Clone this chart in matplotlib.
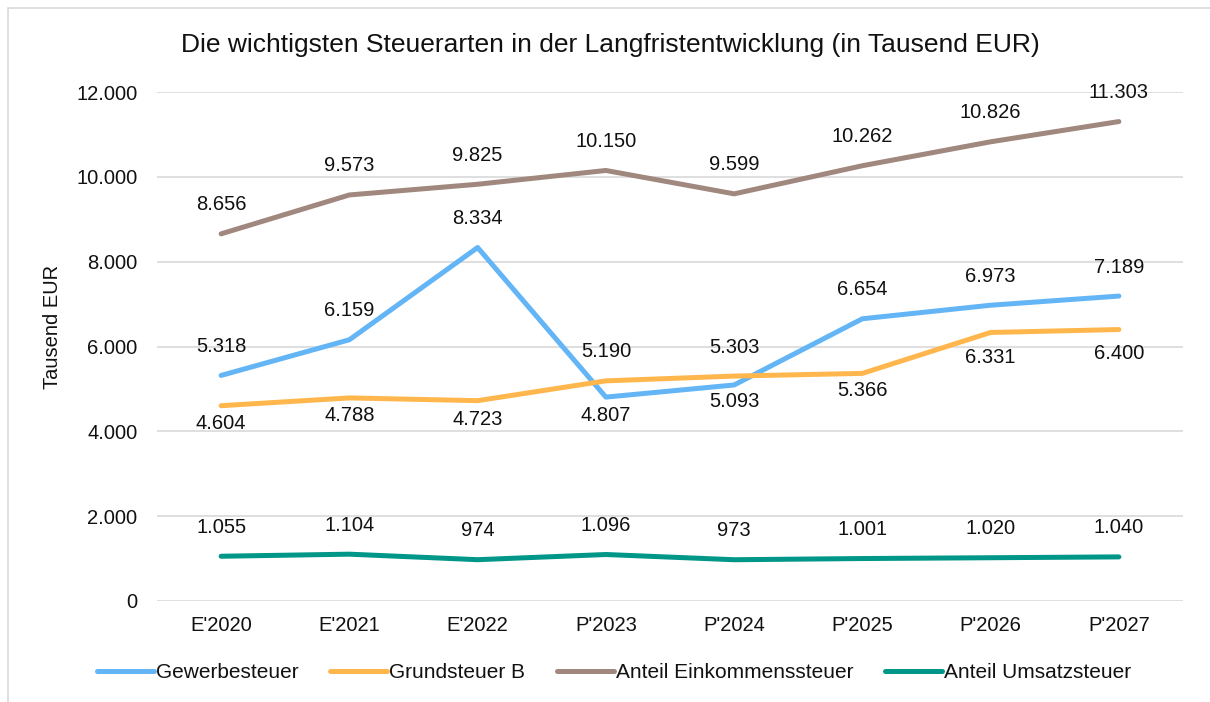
import matplotlib
matplotlib.use("Agg")
import matplotlib.pyplot as plt
from matplotlib.patches import Rectangle
from matplotlib.ticker import FuncFormatter

plt.rcParams['font.family'] = ['Liberation Sans', 'DejaVu Sans']

years = ["E'2020", "E'2021", "E'2022", "P'2023", "P'2024", "P'2025", "P'2026", "P'2027"]
gewerbe = [5318, 6159, 8334, 4807, 5093, 6654, 6973, 7189]
grund_b = [4604, 4788, 4723, 5190, 5303, 5366, 6331, 6400]
einkommen = [8656, 9573, 9825, 10150, 9599, 10262, 10826, 11303]
umsatz = [1055, 1104, 974, 1096, 973, 1001, 1020, 1040]

names = ["Gewerbesteuer", "Grundsteuer B", "Anteil Einkommenssteuer", "Anteil Umsatzsteuer"]
colors = ["#64B5F6", "#FFB74D", "#A1887F", "#009688"]
# label offset in pixels (+ above the point, - below)
offsets = [
    [29, 29, 29, -18, -17, 29, 29, 29],
    [-18, -18, -19, 29, 29, -17, -25, -24],
    [29, 29, 29, 29, 29, 29, 29, 29],
    [29, 29, 29, 29, 29, 29, 29, 29],
]


def de(v):
    return f"{v:,.0f}".replace(",", ".")


W, H = 1210, 702
fig = plt.figure(figsize=(W / 100, H / 100), dpi=100)
ax = fig.add_axes([157 / W, 1 - 601 / H, (1183 - 157) / W, (601 - 92) / H])

x = list(range(len(years)))
for series, name, c, offs in zip([gewerbe, grund_b, einkommen, umsatz], names, colors, offsets):
    ax.plot(x, series, color=c, lw=3.6, solid_capstyle='round', solid_joinstyle='round', label=name, zorder=3)
    for xi, v, o in zip(x, series, offs):
        ax.annotate(de(v), (xi, v), xytext=(0, o * 0.72), textcoords='offset points',
                    ha='center', va='center', fontsize=14.5, color='#111111', zorder=4)

ax.set_xlim(-0.5, len(years) - 0.5)
ax.set_ylim(0, 12000)
ax.set_yticks(range(0, 12001, 2000))
ax.yaxis.set_major_formatter(FuncFormatter(lambda v, p: de(v)))
ax.set_xticks(x)
ax.set_xticklabels(years)
ax.tick_params(axis='both', length=0, labelsize=14.5, labelcolor='#111111')
ax.tick_params(axis='y', pad=14)
ax.tick_params(axis='x', pad=11)
ax.grid(axis='y', color='#D9D9D9', lw=1.2)
ax.set_axisbelow(True)
for s in ax.spines.values():
    s.set_visible(False)

fig.text(53 / W, 1 - 327 / H, "Tausend EUR", rotation=90, ha='center', va='center', fontsize=14.5, color='#111111')
fig.text(610 / W, 1 - 45 / H, "Die wichtigsten Steuerarten in der Langfristentwicklung (in Tausend EUR)",
         ha='center', va='center', fontsize=19, color='#111111')

leg = fig.legend(loc='center', bbox_to_anchor=(614 / W, 1 - 673 / H), ncol=4, frameon=False,
                 fontsize=15, handlelength=2.75, handletextpad=0.1, columnspacing=1.5)
for t in leg.get_texts():
    t.set_color('#111111')

fig.patches.append(Rectangle((7.5 / W, -0.01), 1.0, 1.01 - 8 / H, transform=fig.transFigure,
                             fill=False, edgecolor='#D9D9D9', lw=1.2))

fig.savefig("out.png", dpi=100)
